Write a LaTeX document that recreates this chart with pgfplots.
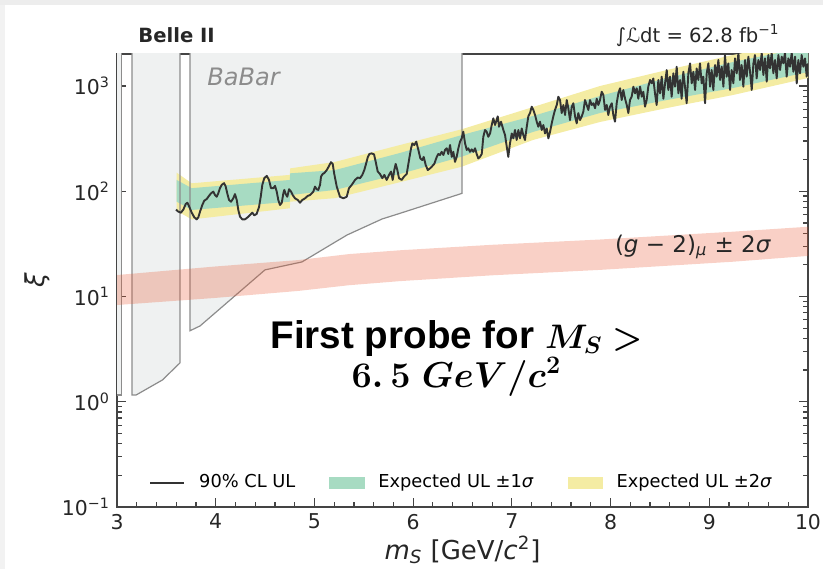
\RequirePackage{fix-cm}
\documentclass[border=0pt]{standalone}
\usepackage{bm}
\usepackage{fontspec}
\setmainfont{DejaVu Sans}
\newfontfamily\arialfont{Liberation Sans}
\usepackage{pgfplots}
\pgfplotsset{compat=1.18}

\definecolor{obs}{HTML}{333333}
\definecolor{sigone}{RGB}{167,219,194}
\definecolor{sigtwo}{RGB}{244,236,163}
\definecolor{babarfill}{RGB}{239,241,241}
\definecolor{babaredge}{RGB}{140,140,140}
\definecolor{gmtwo}{RGB}{232,88,50}
\definecolor{axiscol}{HTML}{444444}

\begin{document}
\begin{tikzpicture}
\begin{axis}[
  name=ax, at={(58.5pt,31pt)}, anchor=south west,
  scale only axis, width=345.5pt, height=226.5pt,
  xmin=3, xmax=10, ymode=log, ymin=0.1, ymax=2014,
  xtick={3,4,5,6,7,8,9,10}, xticklabels={3,4,5,6,7,8,9,10},
  minor x tick num=4, xtick pos=left,
  ytick={0.1,1,10,100,1000},
  yticklabels={10\textsuperscript{−1},10\textsuperscript{0},10\textsuperscript{1},10\textsuperscript{2},10\textsuperscript{3}},
  minor ytick={0.2,0.3,0.4,0.5,0.6,0.7,0.8,0.9,2,3,4,5,6,7,8,9,20,30,40,50,60,70,80,90,200,300,400,500,600,700,800,900,2000},
  yticklabel pos=left,
  tick align=inside,
  major tick length=4.5pt, minor tick length=2.3pt,
  tick style={color=axiscol, line width=0.6pt},
  axis line style={color=axiscol, line width=0.7pt},
  ticklabel style={font=\fontsize{10.2}{12}\selectfont, color=black!85},
  clip mode=individual,
  legend columns=3,
  legend style={draw=none, fill=none, at={(0.0377,0.0536)}, anchor=west,
    font=\fontsize{8.9}{10}\selectfont,
    /tikz/every odd column/.append style={column sep=5pt},
    /tikz/every even column/.append style={column sep=15pt}},
]

% BaBar excluded regions (fill)
\addplot[fill=babarfill, draw=none, forget plot] coordinates {
  (2.9,1.16) (3.044,1.16) (3.044,5000) (2.9,5000)};
\addplot[fill=babarfill, draw=none, forget plot] coordinates {
  (3.152,1.16) (3.194,1.16) (3.46,1.61) (3.638,2.34) (3.638,5000) (3.152,5000)};
\addplot[fill=babarfill, draw=none, forget plot] coordinates {
  (3.740,4.73) (3.841,5.25) (4.499,17.9) (4.874,21.3) (5.330,38.4) (5.685,54.5)
  (5.867,61.7) (6.495,95.5) (6.495,5000) (3.740,5000)};

% expected +-2 sigma
\addplot[fill=sigtwo, draw=none, forget plot] coordinates {
  (3.605,150) (3.757,119) (4.75,143) (4.755,165) (5.209,190) (5.867,275)
  (6.492,388) (7.214,631) (7.893,1000) (8.572,1419) (9.240,1972) (10,2735)
  (10,1191) (9.240,821) (8.572,618) (7.893,455) (7.214,307) (6.492,171)
  (5.867,122) (5.209,86) (4.755,79.6) (4.75,68.9) (3.757,54) (3.605,65.3)};
% expected +-1 sigma
\addplot[fill=sigone, draw=none, forget plot] coordinates {
  (3.605,128) (3.757,107) (4.75,128) (4.755,148) (5.209,159) (5.867,231)
  (6.492,342) (7.214,519) (7.893,804) (8.572,1191) (9.240,1690) (10,2350)
  (10,1358) (9.240,957) (8.572,736) (7.893,554) (7.214,366) (6.492,213)
  (5.867,146) (5.209,103) (4.755,92) (4.75,79.6) (3.757,66.4) (3.605,79.6)};

% BaBar edges
\addplot[draw=babaredge, line width=0.6pt, forget plot] coordinates {
  (3.044,5000) (3.044,1.16) (2.9,1.16)};
\addplot[draw=babaredge, line width=0.6pt, forget plot] coordinates {
  (3.152,5000) (3.152,1.16) (3.194,1.16) (3.46,1.61) (3.638,2.34) (3.638,5000)};
\addplot[draw=babaredge, line width=0.6pt, forget plot] coordinates {
  (3.740,5000) (3.740,4.73) (3.841,5.25) (4.499,17.9) (4.874,21.3) (5.330,38.4)
  (5.685,54.5) (5.867,61.7) (6.495,95.5) (6.495,5000)};

% (g-2)_mu +-2 sigma band
\addplot[fill=gmtwo, fill opacity=0.28, draw=none, forget plot] coordinates {
  (3,16.0) (4.0,19.3) (4.837,22.2) (5.35,25.3) (5.867,27.5) (6.8,31.0) (7.893,34.8)
  (9.24,41.3) (10,46)
  (10,24.3) (9.24,21.4) (7.893,17.9) (6.8,15.9) (5.867,14.0) (5.35,12.8)
  (4.837,11.3) (4.0,9.7) (3,8.3)};

% observed 90% CL UL
\addplot[color=obs, line width=0.95pt, line join=round, forget plot] coordinates {
  (3.598,67) (3.621,64) (3.648,62.6) (3.672,67) (3.696,75.6) (3.713,77.8) (3.729,72.4)
  (3.757,62.6) (3.783,56.6) (3.807,54.1) (3.824,56.6) (3.841,64) (3.864,74) (3.884,81.3)
  (3.909,84.4) (3.925,88.6) (3.952,95.5) (3.976,99.2) (3.993,92) (4.010,88.6) (4.026,95.5)
  (4.043,107) (4.061,115) (4.084,119.4) (4.101,111) (4.117,95.5) (4.135,82.6) (4.155,79.6)
  (4.178,85.7) (4.195,94) (4.213,82.6) (4.229,66.4) (4.246,57.4) (4.270,54) (4.297,54.1)
  (4.324,56.6) (4.347,59.5) (4.371,62.6) (4.391,59) (4.415,61) (4.439,71) (4.456,88.6)
  (4.472,115) (4.492,133) (4.517,140) (4.540,128) (4.560,107) (4.584,107) (4.601,112.5)
  (4.618,99.2) (4.634,82.6) (4.651,74) (4.669,77.8) (4.685,95.5) (4.695,103) (4.709,94)
  (4.725,88.6) (4.743,104.6) (4.763,99.2) (4.780,92) (4.803,85.7) (4.831,82.6) (4.854,77.8)
  (4.877,82.6) (4.905,85.7) (4.932,90.3) (4.955,92) (4.973,95.5) (4.989,99.2) (5.006,110.7)
  (5.023,104.6) (5.039,103) (5.057,115) (5.067,138) (5.084,146) (5.100,149) (5.125,159)
  (5.148,174) (5.168,189) (5.185,182) (5.201,146)
  (5.226,110.7) (5.259,88.6) (5.293,85.7) (5.327,88.6) (5.350,107) (5.378,115) (5.411,128)
  (5.439,135) (5.462,133) (5.485,143) (5.505,159) (5.520,178) (5.540,210) (5.556,226)
  (5.580,229) (5.604,224) (5.621,190) (5.641,154) (5.664,146) (5.688,133) (5.708,143)
  (5.732,128) (5.756,143) (5.776,154) (5.793,128) (5.809,159) (5.823,182) (5.840,159)
  (5.857,133) (5.884,128) (5.908,138) (5.935,146) (5.958,198) (5.979,256) (5.992,285)
  (6.012,275) (6.032,296) (6.053,247) (6.073,205) (6.093,198) (6.107,212) (6.127,178)
  (6.148,159) (6.171,165) (6.188,171) (6.214,182) (6.239,212) (6.255,226) (6.272,221)
  (6.289,237) (6.306,221) (6.323,247) (6.340,256) (6.356,226) (6.374,275) (6.391,212)
  (6.407,237) (6.424,190) (6.441,212) (6.458,256) (6.475,296) (6.492,318) (6.508,368)
  (6.526,285) (6.543,247) (6.559,256) (6.576,237) (6.593,250) (6.610,237) (6.627,256)
  (6.644,226) (6.660,205) (6.677,212) (6.695,226) (6.711,329) (6.728,382) (6.745,368)
  (6.761,329) (6.779,354) (6.796,426) (6.812,493) (6.830,426)
  (6.840,458) (6.857,515) (6.870,410) (6.890,458) (6.914,382) (6.931,342) (6.948,266)
  (6.964,212) (6.981,285) (6.999,354) (7.015,318) (7.032,382) (7.049,307) (7.066,382)
  (7.083,318) (7.100,395) (7.116,342) (7.133,307) (7.151,410) (7.167,515) (7.184,553)
  (7.201,636) (7.218,592) (7.235,530) (7.252,458) (7.268,410) (7.285,458) (7.303,382)
  (7.319,426) (7.336,354) (7.353,395) (7.370,318) (7.387,368) (7.404,442) (7.420,515)
  (7.437,592) (7.455,660) (7.471,791) (7.488,736) (7.505,553) (7.522,660) (7.539,530)
  (7.556,736) (7.572,614) (7.589,475) (7.607,636) (7.623,686) (7.640,515) (7.657,442)
  (7.673,553) (7.691,475) (7.708,515) (7.724,570) (7.741,736) (7.758,660) (7.775,592)
  (7.792,736) (7.809,660) (7.826,686) (7.843,614) (7.860,757) (7.876,660) (7.893,736)
  (7.910,882) (7.927,821) (7.944,592) (7.961,660) (7.977,530) (7.994,636) (8.012,686)
  (8.028,530) (8.045,458) (8.062,686) (8.079,852) (8.096,951) (8.113,736) (8.129,916)
  (8.147,757) (8.164,660) (8.180,553) (8.197,736) (8.214,791) (8.231,985) (8.248,852)
  (8.265,951) (8.281,757) (8.299,985) (8.316,791) (8.332,882) (8.349,636) (8.366,736)
  (8.382,985) (8.400,1140) (8.417,1061) (8.433,1178) (8.450,852)
  (8.467,660) (8.484,1140) (8.501,852) (8.518,1226) (8.535,757) (8.552,1060) (8.569,1419)
  (8.585,916) (8.602,1226) (8.619,791) (8.636,1320) (8.653,985) (8.670,1525) (8.687,852)
  (8.704,1140) (8.720,757) (8.737,1367) (8.754,985) (8.771,686) (8.788,1320) (8.805,1640)
  (8.822,1060) (8.839,1367) (8.856,916) (8.872,1470) (8.889,1140) (8.906,1640) (8.923,1060)
  (8.940,1226) (8.957,686) (8.974,1320) (8.991,1640) (9.008,985) (9.024,1419) (9.041,916)
  (9.058,1583) (9.075,1226) (9.092,1766) (9.109,1140) (9.126,1525) (9.143,985) (9.159,1970)
  (9.176,1226) (9.193,1640) (9.210,916) (9.227,1419) (9.244,1060) (9.261,1830) (9.278,1320)
  (9.295,2070) (9.311,1140) (9.328,1583) (9.345,985) (9.362,1766) (9.379,1226) (9.396,1900)
  (9.413,1367) (9.430,916) (9.447,1640) (9.463,1970) (9.480,1180) (9.497,1766) (9.514,1419)
  (9.531,2070) (9.548,1272) (9.565,1830) (9.582,1099) (9.598,1970) (9.615,1470) (9.632,2070)
  (9.649,1320) (9.666,1766) (9.683,1180) (9.700,1970) (9.717,1419) (9.734,1900) (9.750,1640)
  (9.767,2070) (9.784,1226) (9.801,1830) (9.818,1525) (9.835,2070) (9.852,1367) (9.869,1900)
  (9.886,1060) (9.902,1766) (9.919,1320) (9.936,1970) (9.953,1525) (9.970,1830) (9.987,1226)
  (10.0,1640)};

% legend
\addlegendimage{line legend, color=obs, line width=0.8pt}
\addlegendentry{90\% CL UL}
\addlegendimage{area legend, fill=sigone, draw=sigone}
\addlegendentry{Expected UL ±1\textit{σ}}
\addlegendimage{area legend, fill=sigtwo, draw=sigtwo}
\addlegendentry{Expected UL ±2\textit{σ}}
\end{axis}

% annotations (positions in pt, picture is 411.5pt x 284.5pt)
\node[anchor=base west, text=black!85, inner sep=0pt] at (69pt,263pt)
  {{\fontsize{9.8}{11}\selectfont\bfseries Belle II}};
\node[anchor=base east, text=black!85, inner sep=0pt] at (390pt,263pt)
  {{\fontsize{9.8}{12}\selectfont ∫ℒdt = 62.8 fb\textsuperscript{−1}}};
\node[anchor=base west, text=black!45, inner sep=0pt] at (103.5pt,242pt)
  {{\fontsize{12}{14}\selectfont\textit{BaBar}}};
\node[anchor=base, text=black!85, inner sep=0pt] at (346.5pt,158.5pt)
  {{\fontsize{11.5}{13}\selectfont (\textit{g} − 2)\textsubscript{\textit{μ}} ± 2\textit{σ}}};
\node[anchor=base, text=black, inner sep=0pt] at (228.25pt,110.5pt)
  {{\arialfont\bfseries\fontsize{19.3}{22}\selectfont First probe for {\fontsize{17}{20}\selectfont$\bm{M_S >}$}}};
\node[anchor=base, text=black, inner sep=0pt] at (228.25pt,91pt)
  {{\fontsize{18}{21}\selectfont\boldmath$6.\,5\ GeV/c^{2}$}};
\node[anchor=base, text=black!85, inner sep=0pt] at (231.25pt,5pt)
  {{\fontsize{13}{15}\selectfont\textit{m}\textsubscript{\textit{S}} [GeV/\textit{c}\textsuperscript{2}]}};
\node[rotate=90, text=black!85, inner sep=0pt] at (18.5pt,144.5pt)
  {{\fontsize{13}{15}\selectfont\textit{ξ}}};

\pgfresetboundingbox
\path[use as bounding box] (0,0) rectangle (411.5pt,284.5pt);
\fill[black!7] (0,282pt) rectangle (411.5pt,284.5pt);
\fill[black!5] (0,0) rectangle (2.5pt,282pt);
\end{tikzpicture}
\end{document}
